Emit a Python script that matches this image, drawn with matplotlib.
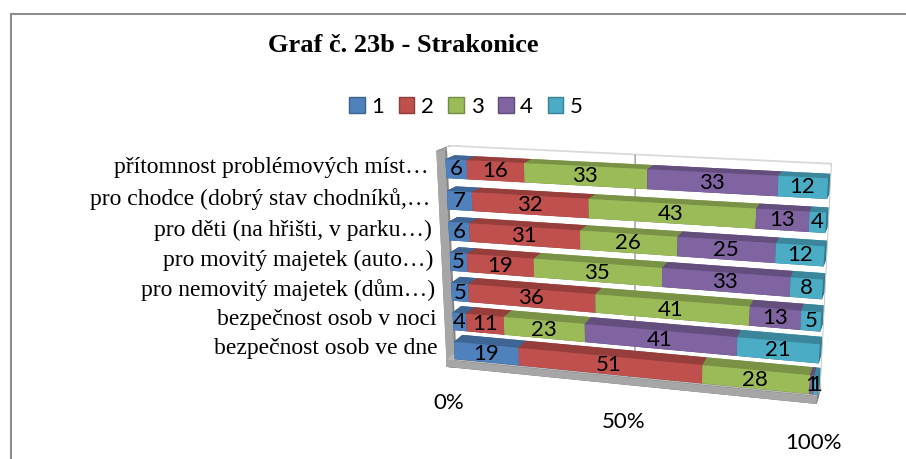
import numpy as np
import matplotlib
matplotlib.use("Agg")
import matplotlib.pyplot as plt
from matplotlib.patches import Patch, Rectangle
from matplotlib.colors import to_rgba
from mpl_toolkits.mplot3d import proj3d

categories = [
    "přítomnost problémových míst…",
    "pro chodce (dobrý stav chodníků,…",
    "pro děti (na hřišti, v parku…)",
    "pro movitý majetek (auto…)",
    "pro nemovitý majetek (dům…)",
    "bezpečnost osob v noci",
    "bezpečnost osob ve dne",
]
series_names = ["1", "2", "3", "4", "5"]
s1 = [6, 7, 6, 5, 5, 4, 19]
s2 = [16, 32, 31, 19, 36, 11, 51]
s3 = [33, 43, 26, 35, 41, 23, 28]
s4 = [33, 13, 25, 33, 13, 41, 1]
s5 = [12, 4, 12, 8, 5, 21, 1]
series = [s1, s2, s3, s4, s5]
colors = ["#4F81BD", "#C0504D", "#9BBB59", "#8064A2", "#4BACC6"]
ticks = [0, 50, 100]
tick_labels = ["0%", "50%", "100%"]

SANS = ["Lato", "DejaVu Sans"]
SERIF = ["Liberation Serif", "DejaVu Serif"]


def shade(c, f):
    r, g, b, a = to_rgba(c)
    return (min(r * f, 1), min(g * f, 1), min(b * f, 1), a)


def face_colors(c, top=0.78, side=0.7, front=1.0):
    # bar3d face order: bottom, top, front(-y), back(+y), left(-x), right(+x)
    return [shade(c, 0.6), shade(c, top), shade(c, front), shade(c, 0.9),
            shade(c, side), shade(c, side)]


fig = plt.figure(figsize=(9.06, 4.59), dpi=100)
fig.patches.append(Rectangle((10.5 / 906, -0.1), 1.2, 1 - 13.5 / 459 + 0.1,
                             transform=fig.transFigure, fill=False,
                             edgecolor="#8c8c8c", linewidth=1.5))

ax = fig.add_axes([(624 - 230) / 906, (459 - 277 - 230) / 459, 460 / 906, 460 / 459],
                  projection="3d")
ax.computed_zorder = False

n = len(categories)
thick = 0.6
depth = 0.7
wall = 2.5
floor_t = 0.25
back_y = depth + 0.1
back_t = 0.3
top_z = n - 0.1
zb = np.array([(n - 1 - i) + 0.05 for i in range(n)])

# walls and floor
wx = [-wall, -wall, -wall]
wy = [0, 0, back_y]
wz = [-floor_t, -floor_t, -floor_t]
wdx = [wall, 100 + wall, 100 + wall]
wdy = [back_y + back_t, back_y + back_t, back_t]
wdz = [top_z + floor_t, floor_t, top_z + floor_t]
gray = "#a6a6a6"
wcols = (face_colors(gray, top=0.95, side=0.8, front=1.0)
         + face_colors(gray, top=1.1, side=0.8, front=1.0)
         + [to_rgba("#d0d0d0"), to_rgba("#d9d9d9"), to_rgba("white"), to_rgba("white"),
            to_rgba("#d0d0d0"), to_rgba("#bfbfbf")])
ax.bar3d(wx, wy, wz, wdx, wdy, wdz, color=wcols, shade=False, zorder=1)

# gridline at 50 %
ax.plot([50, 50], [back_y - 0.001] * 2, [0, top_z], color="#999999", lw=1, zorder=1.5)
ax.plot([50, 50], [0, back_y], [0.001, 0.001], color="#999999", lw=1, zorder=1.5)

# bars
totals = np.sum(series, axis=0)
bx, by, bz, bdx, bcols = [], [], [], [], []
label_pos = []
left = np.zeros(n)
for vals, c in zip(series, colors):
    w = np.array(vals) / totals * 100
    for i in range(n):
        bx.append(left[i])
        by.append(0)
        bz.append(zb[i])
        bdx.append(w[i])
        bcols += face_colors(c)
        label_pos.append((left[i] + w[i] / 2, zb[i] + thick / 2, vals[i]))
    left = left + w
ax.bar3d(bx, by, bz, bdx, [depth] * len(bx), [thick] * len(bx),
         color=bcols, shade=False, zorder=2)

ax.set_xlim(-wall, 101)
ax.set_ylim(0, back_y + back_t)
ax.set_zlim(-floor_t, top_z)
ax.set_box_aspect((103.5 * 0.1174, back_y + back_t, top_z + floor_t), zoom=0.963)
ax.view_init(elev=16, azim=-75)
ax.set_proj_type("persp", focal_length=0.45)
ax.set_axis_off()

# texts: project 3D anchor points to 2D so they are plain 2D texts
fig.canvas.draw()


def text3d(x, y, z, s, **kw):
    x2, y2, _ = proj3d.proj_transform(x, y, z, ax.get_proj())
    ax.text2D(x2, y2, s, transform=ax.transData, **kw)


for xc, zc, v in label_pos:
    text3d(xc, -0.01, zc, str(v), ha="center", va="center", fontsize=16,
           family=SANS, zorder=5)

for i, cat in enumerate(categories):
    text3d(-wall - 2.5, 0, zb[i] + thick / 2, cat, ha="right", va="center",
           fontsize=17, family=SERIF, zorder=5)

for t, tl in zip(ticks, tick_labels):
    text3d(t, -0.6, -1.25, tl, ha="center", va="center", fontsize=16,
           family=SANS, zorder=5)

fig.text(403 / 906, 1 - 45 / 459, "Graf č. 23b - Strakonice", ha="center", va="center",
         fontsize=19, fontweight="bold", family=SERIF)

handles = [Patch(facecolor=c, edgecolor=shade(c, 0.75), label=s)
           for c, s in zip(colors, series_names)]
fig.legend(handles=handles, loc="center", bbox_to_anchor=(466 / 906, 1 - 107 / 459),
           ncol=5, frameon=False, prop={"family": SANS, "size": 16},
           handlelength=0.7, handleheight=0.7, handletextpad=0.3, columnspacing=0.65)

fig.savefig("out.png", dpi=100)
